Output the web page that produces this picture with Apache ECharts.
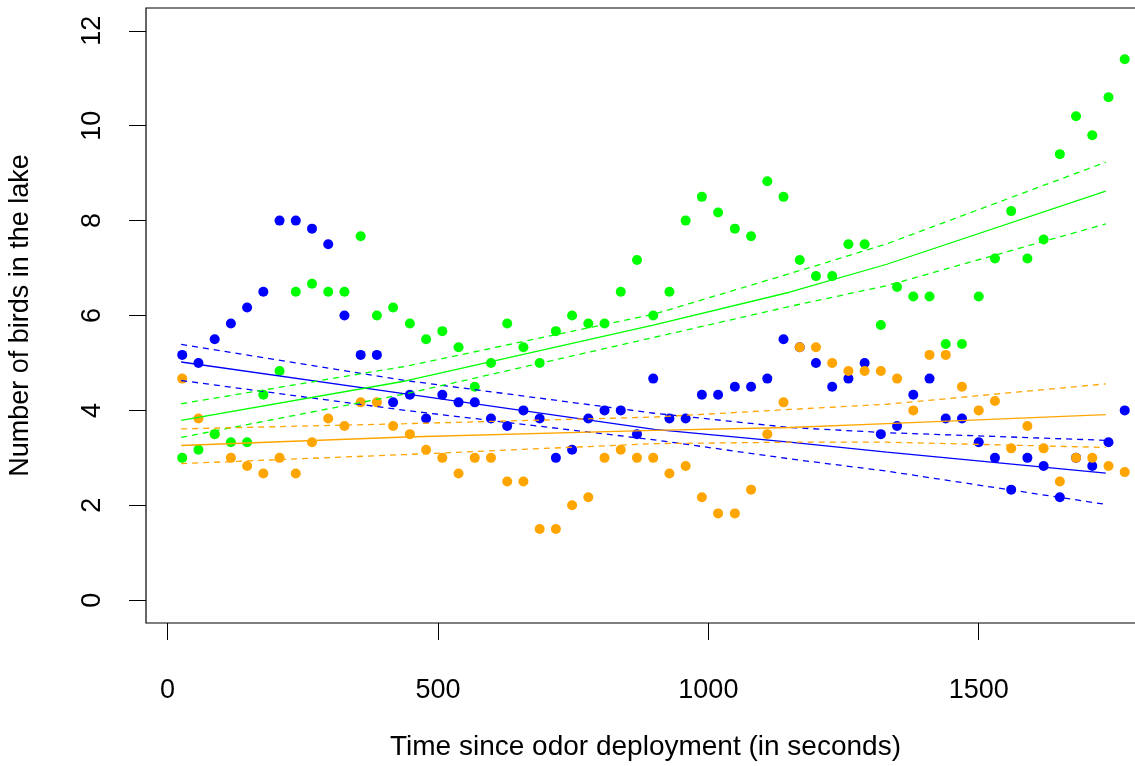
<!DOCTYPE html>
<html>
<head>
<meta charset="utf-8">
<script src="https://cdn.jsdelivr.net/npm/echarts@6/dist/echarts.min.js"></script>
<style>
html,body{margin:0;padding:0;background:#fff;overflow:hidden;}
#chart{width:1135px;height:766px;}
</style>
</head>
<body>
<div id="chart"></div>
<script>
// Sampling times (seconds since odor deployment)
var times = [27, 57, 87, 117, 147, 177, 207, 237, 267, 297, 327, 357, 387, 417, 448,
  478, 508, 538, 568, 598, 628, 658, 688, 718, 748, 778, 808, 838, 868, 898,
  928, 958, 988, 1018, 1049, 1079, 1109, 1139, 1169, 1199, 1229, 1259, 1289, 1319,
  1349, 1379, 1409, 1439, 1469, 1500, 1530, 1560, 1590, 1620, 1650, 1680, 1710, 1740, 1770];

// Observed mean number of birds
var blueVals = [5.17, 5.0, 5.5, 5.83, 6.17, 6.5, 8.0, 8.0, 7.83, 7.5, 6.0, 5.17, 5.17, 4.17, 4.33,
  3.83, 4.33, 4.17, 4.17, 3.83, 3.67, 4.0, 3.83, 3.0, 3.17, 3.83, 4.0, 4.0, 3.5, 4.67,
  3.83, 3.83, 4.33, 4.33, 4.5, 4.5, 4.67, 5.5, 5.33, 5.0, 4.5, 4.67, 5.0, 3.5,
  3.67, 4.33, 4.67, 3.83, 3.83, 3.33, 3.0, 2.33, 3.0, 2.83, 2.17, 3.0, 2.83, 3.33, 4.0];

var orangeVals = [4.67, 3.83, 3.5, 3.0, 2.83, 2.67, 3.0, 2.67, 3.33, 3.83, 3.67, 4.17, 4.17, 3.67, 3.5,
  3.17, 3.0, 2.67, 3.0, 3.0, 2.5, 2.5, 1.5, 1.5, 2.0, 2.17, 3.0, 3.17, 3.0, 3.0,
  2.67, 2.83, 2.17, 1.83, 1.83, 2.33, 3.5, 4.17, 5.33, 5.33, 5.0, 4.83, 4.83, 4.83,
  4.67, 4.0, 5.17, 5.17, 4.5, 4.0, 4.2, 3.2, 3.67, 3.2, 2.5, 3.0, 3.0, 2.83, 2.7];

var greenVals = [3.0, 3.17, 3.5, 3.33, 3.33, 4.33, 4.83, 6.5, 6.67, 6.5, 6.5, 7.67, 6.0, 6.17, 5.83,
  5.5, 5.67, 5.33, 4.5, 5.0, 5.83, 5.33, 5.0, 5.67, 6.0, 5.83, 5.83, 6.5, 7.17, 6.0,
  6.5, 8.0, 8.5, 8.17, 7.83, 7.67, 8.83, 8.5, 7.17, 6.83, 6.83, 7.5, 7.5, 5.8,
  6.6, 6.4, 6.4, 5.4, 5.4, 6.4, 7.2, 8.2, 7.2, 7.6, 9.4, 10.2, 9.8, 10.6, 11.4];

// Fitted model curves (read at these times) with confidence bands
var fitTimes = [25, 440, 900, 1150, 1330, 1735];
var blueFit = [5.02, 4.35, 3.6, 3.33, 3.12, 2.68];
var blueUpper = [5.39, 4.63, 3.94, 3.64, 3.53, 3.37];
var blueLower = [4.63, 4.0, 3.38, 2.98, 2.72, 2.02];
var greenFit = [3.79, 4.62, 5.8, 6.49, 7.08, 8.62];
var greenUpper = [4.14, 4.93, 6.03, 6.88, 7.51, 9.23];
var greenLower = [3.43, 4.35, 5.54, 6.19, 6.63, 7.93];
var orangeFit = [3.26, 3.44, 3.58, 3.64, 3.72, 3.91];
var orangeUpper = [3.61, 3.72, 3.86, 4.02, 4.13, 4.56];
var orangeLower = [2.88, 3.07, 3.30, 3.33, 3.33, 3.22];

var xTicks = [0, 500, 1000, 1500];
var yTicks = [0, 2, 4, 6, 8, 10, 12];

var xTitle = 'Time since odor deployment (in seconds)';
var yTitle = 'Number of birds in the lake';

var BLUE = '#0000ff', GREEN = '#00ff00', ORANGE = '#ffa500';
var FONT = "'Liberation Sans', Arial, sans-serif";

function pairs(xs, ys) {
  return xs.map(function (x, i) { return [x, ys[i]]; });
}
function scatter(name, vals, color) {
  return {
    name: name, type: 'scatter', data: pairs(times, vals),
    symbol: 'circle', symbolSize: 10,
    itemStyle: { color: color, opacity: 1 },
    z: 2, silent: true
  };
}
function line(name, vals, color, dashed) {
  return {
    name: name, type: 'line', data: pairs(fitTimes, vals),
    showSymbol: false, symbol: 'none', smooth: false,
    lineStyle: { color: color, width: 1.3, type: dashed ? [6, 5] : 'solid' },
    z: 3, silent: true
  };
}
function plain(v) { return String(v); }

var chart = echarts.init(document.getElementById('chart'), null, { renderer: 'canvas' });
chart.setOption({
  animation: false,
  backgroundColor: '#ffffff',
  grid: {
    left: 146, top: 8, width: 999, height: 615,
    outerBoundsMode: 'none', containLabel: false,
    show: true, borderColor: '#000', borderWidth: 1.2, backgroundColor: 'transparent'
  },
  xAxis: {
    type: 'value', min: -40, max: 1807.5,
    name: xTitle, nameLocation: 'middle', nameGap: 110,
    nameTextStyle: { fontFamily: FONT, fontSize: 28, color: '#000' },
    axisLine: { show: false, onZero: false },
    axisTick: { show: true, inside: false, length: 17, customValues: xTicks,
      lineStyle: { color: '#000', width: 1 } },
    axisLabel: { customValues: xTicks, formatter: plain, margin: 54,
      fontFamily: FONT, fontSize: 27, color: '#000' },
    splitLine: { show: false }
  },
  yAxis: {
    type: 'value', min: -0.48, max: 12.48,
    name: yTitle, nameLocation: 'middle', nameGap: 112, nameRotate: 90,
    nameTextStyle: { fontFamily: FONT, fontSize: 27, color: '#000' },
    axisLine: { show: false, onZero: false },
    axisTick: { show: true, inside: false, length: 17, customValues: yTicks,
      lineStyle: { color: '#000', width: 1 } },
    axisLabel: { customValues: yTicks, formatter: plain, rotate: 90, margin: 40,
      fontFamily: FONT, fontSize: 27, color: '#000' },
    splitLine: { show: false }
  },
  series: [
    scatter('blue', blueVals, BLUE),
    scatter('orange', orangeVals, ORANGE),
    scatter('green', greenVals, GREEN),
    line('blueFit', blueFit, BLUE, false),
    line('blueUpper', blueUpper, BLUE, true),
    line('blueLower', blueLower, BLUE, true),
    line('greenFit', greenFit, GREEN, false),
    line('greenUpper', greenUpper, GREEN, true),
    line('greenLower', greenLower, GREEN, true),
    line('orangeFit', orangeFit, ORANGE, false),
    line('orangeUpper', orangeUpper, ORANGE, true),
    line('orangeLower', orangeLower, ORANGE, true)
  ]
});
</script>
</body>
</html>
